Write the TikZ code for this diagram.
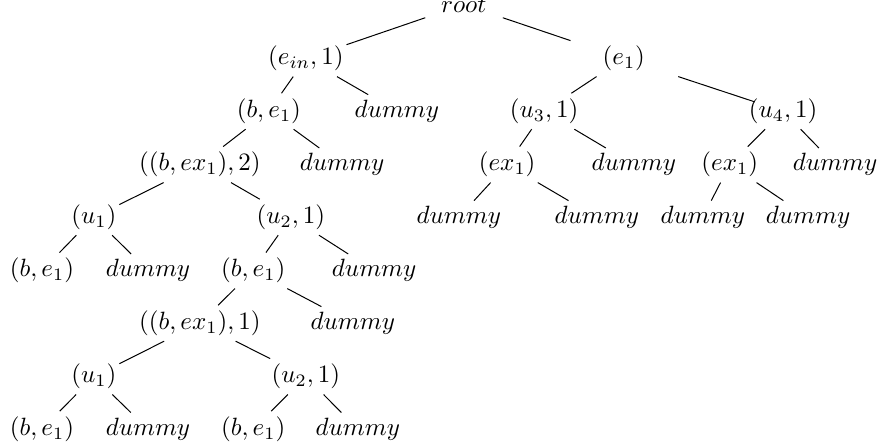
\documentclass[tikz,border=0pt]{standalone}
\usetikzlibrary{positioning}

\begin{document}
\begin{tikzpicture}[every node/.style={inner xsep=1pt, inner ysep=2pt},
                    branch/.style={line width=0.4pt}]
\useasboundingbox (0,0) rectangle (12.386,6.284);

% Root and first level
\node[inner xsep=7.7pt] (root) at (6.52,6.22) {$root$};
\node (ein) at (4.30,5.46) {$(e_{in},1)$};
\node[inner xsep=14pt] (e1) at (8.77,5.46) {$(e_1)$};

% Second level
\node (be1a) at (3.78,4.72) {$(b,e_1)$};
\node (dA) at (5.58,4.72) {$dummy$};
\node (u3) at (7.65,4.72) {$(u_3,1)$};
\node (u4) at (11.01,4.72) {$(u_4,1)$};

% Third level
\node (bex2) at (2.81,3.97) {$((b,ex_1),2)$};
\node (dB) at (4.81,3.97) {$dummy$};
\node (ex1a) at (7.13,3.97) {$(ex_1)$};
\node (dC) at (8.91,3.97) {$dummy$};
\node (ex1b) at (10.26,3.97) {$(ex_1)$};
\node (dD) at (11.74,3.97) {$dummy$};

% Fourth level
\node (u1a) at (1.32,3.23) {$(u_1)$};
\node (u2a) at (4.09,3.23) {$(u_2,1)$};
\node (dE) at (6.45,3.23) {$dummy$};
\node (dF) at (8.39,3.23) {$dummy$};
\node (dG) at (9.88,3.23) {$dummy$};
\node (dH) at (11.36,3.23) {$dummy$};

% Fifth level
\node (be1b) at (0.59,2.48) {$(b,e_1)$};
\node (dI) at (2.08,2.48) {$dummy$};
\node (be1c) at (3.56,2.48) {$(b,e_1)$};
\node (dJ) at (5.26,2.48) {$dummy$};

% Repeated subtree below
\node (bex1) at (2.81,1.74) {$((b,ex_1),1)$};
\node (dK) at (4.96,1.74) {$dummy$};
\node (u1b) at (1.32,0.99) {$(u_1)$};
\node (u2b) at (4.30,0.99) {$(u_2,1)$};
\node (be1d) at (0.59,0.25) {$(b,e_1)$};
\node (dL) at (2.08,0.25) {$dummy$};
\node (be1e) at (3.56,0.25) {$(b,e_1)$};
\node (dM) at (5.03,0.25) {$dummy$};

% Branches, left part
\draw[branch] (root) -- (ein);
\draw[branch] (ein) -- (be1a);
\draw[branch] (ein) -- (dA);
\draw[branch] (be1a) -- (bex2);
\draw[branch] (be1a) -- (dB);
\draw[branch] (bex2) -- (u1a);
\draw[branch] (bex2) -- (u2a);
\draw[branch] (u1a) -- (be1b);
\draw[branch] (u1a) -- (dI);
\draw[branch] (u2a) -- (be1c);
\draw[branch] (u2a) -- (dJ);
\draw[branch] (be1c) -- (bex1);
\draw[branch] (be1c) -- (dK);
\draw[branch] (bex1) -- (u1b);
\draw[branch] (bex1) -- (u2b);
\draw[branch] (u1b) -- (be1d);
\draw[branch] (u1b) -- (dL);
\draw[branch] (u2b) -- (be1e);
\draw[branch] (u2b) -- (dM);

% Branches, right part
\draw[branch] (root) -- (e1);
\draw[branch] (e1) -- (u3);
\draw[branch, shorten >=-3.8pt] (e1) -- (u4);
\draw[branch] (u3) -- (ex1a);
\draw[branch] (u3) -- (dC);
\draw[branch] (ex1a) -- (dE);
\draw[branch] (ex1a) -- (dF);
\draw[branch] (u4) -- (ex1b);
\draw[branch] (u4) -- (dD);
\draw[branch] (ex1b) -- (dG);
\draw[branch] (ex1b) -- (dH);

\end{tikzpicture}
\end{document}
